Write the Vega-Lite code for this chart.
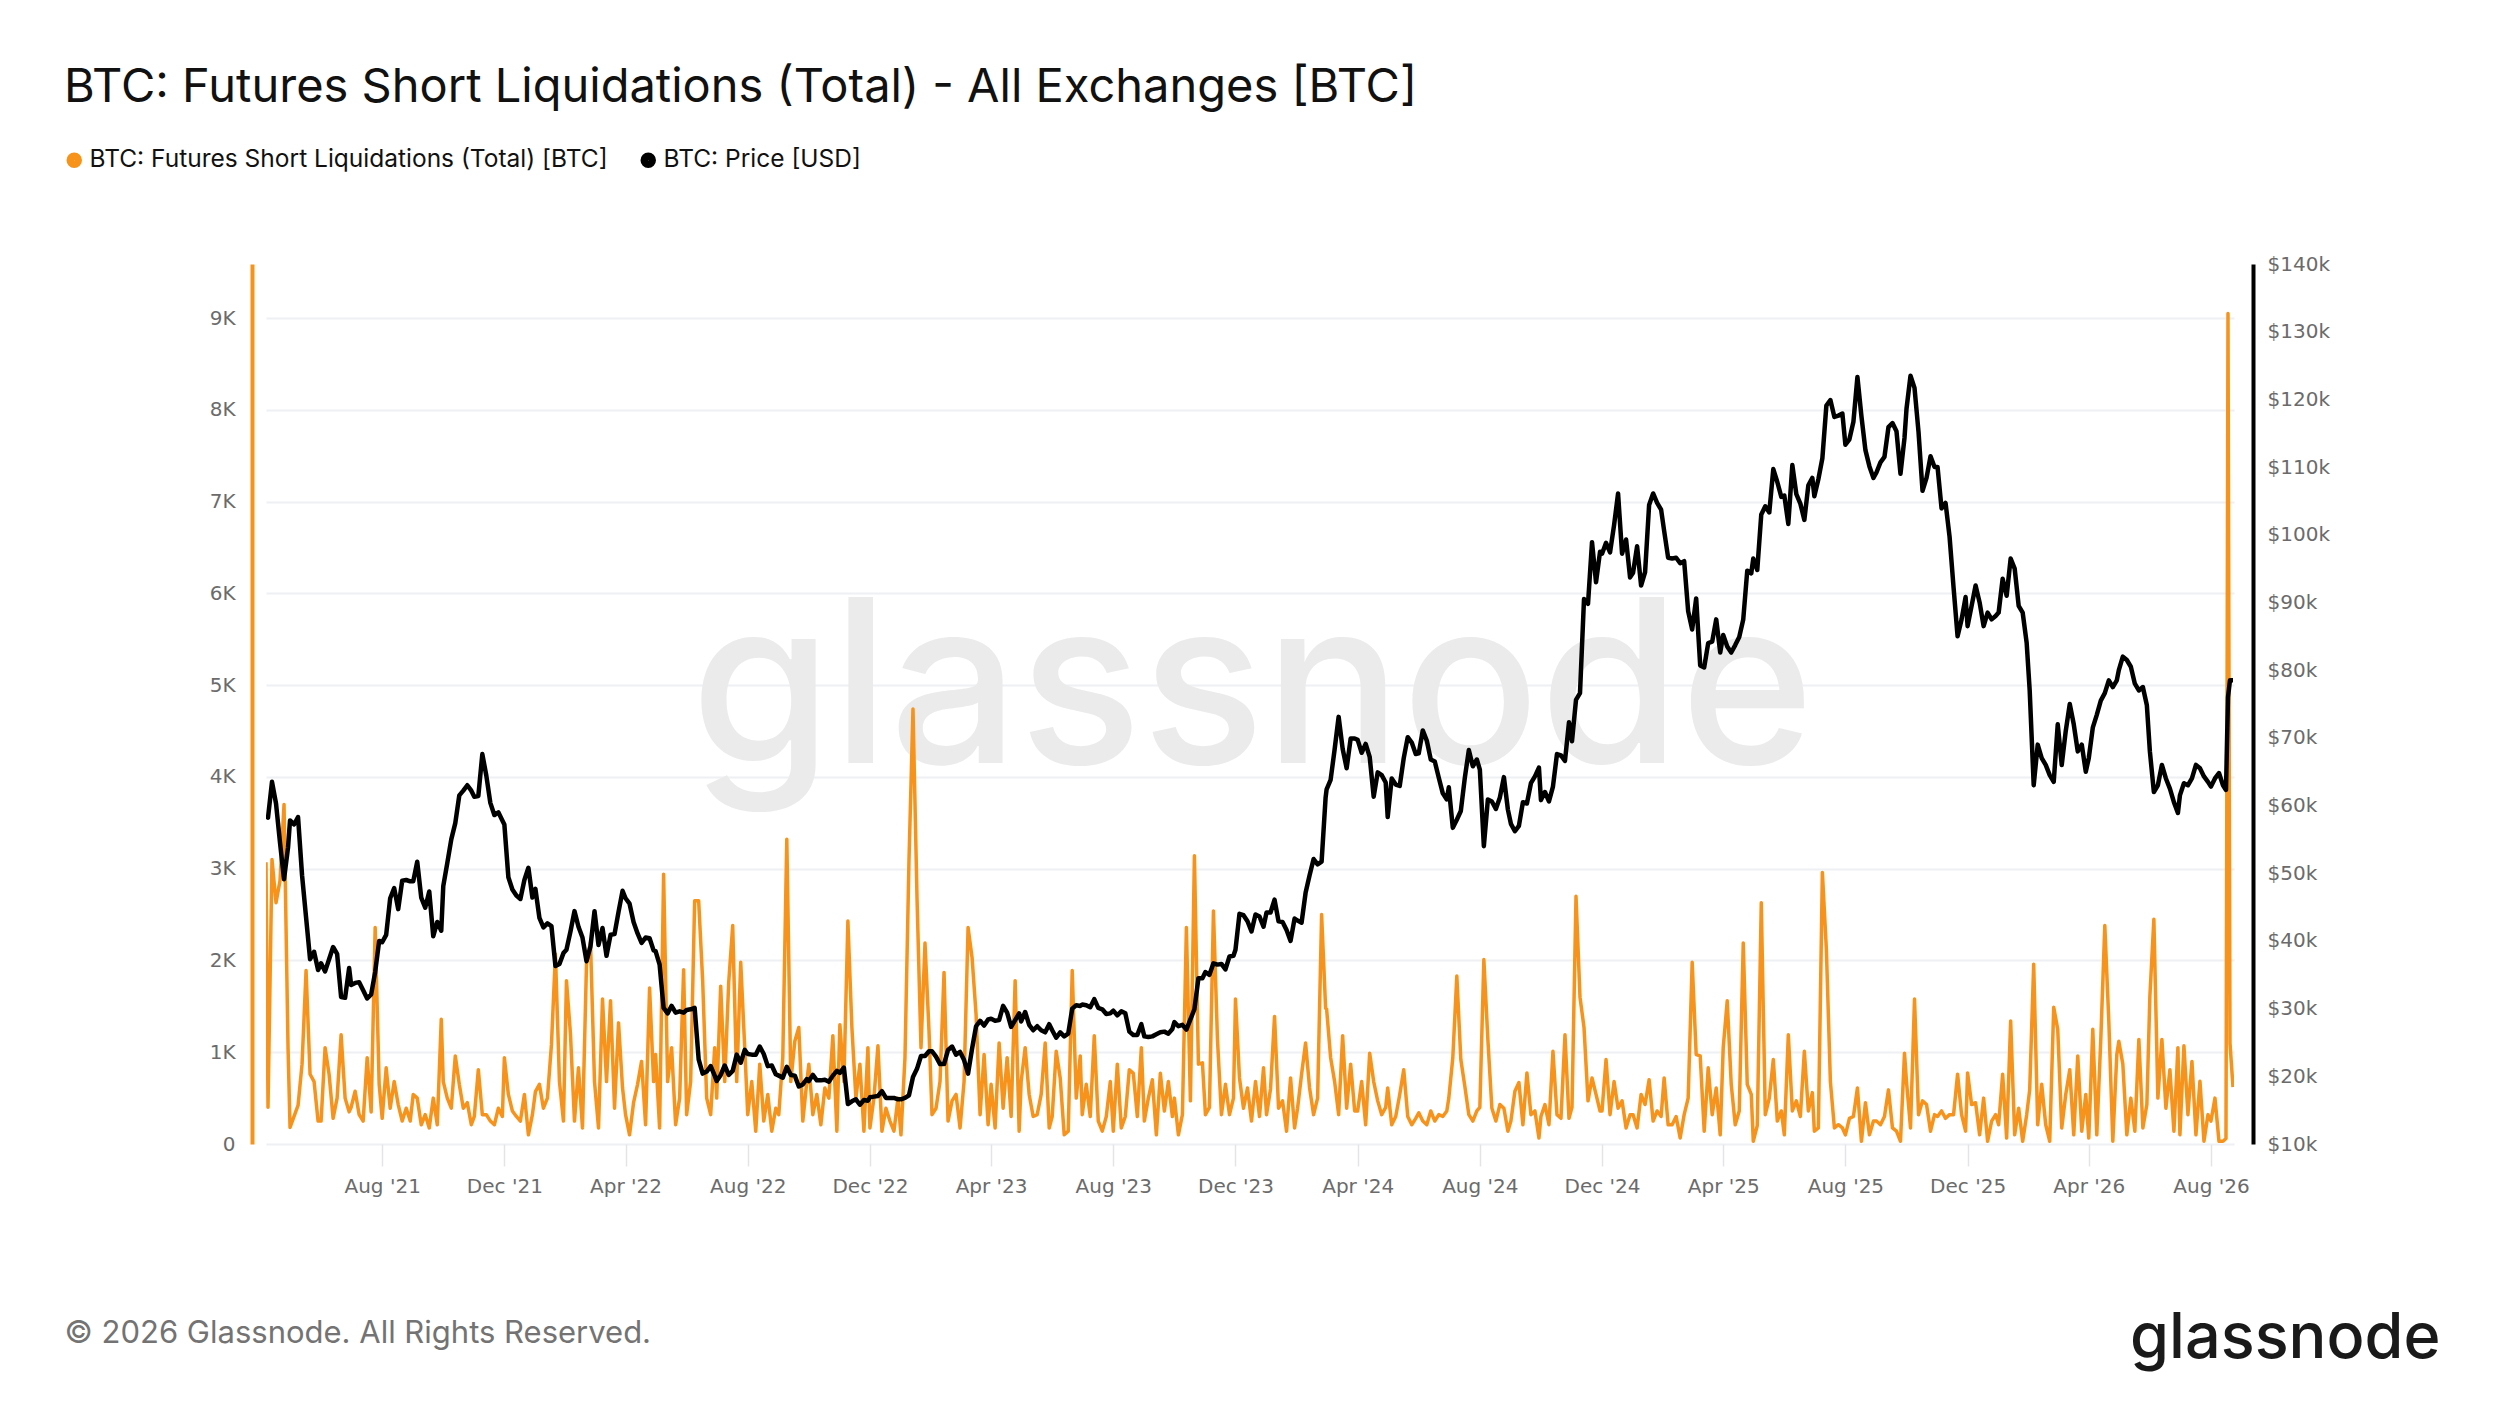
{
  "$schema": "https://vega.github.io/schema/vega-lite/v6.json",
  "width": 1968,
  "height": 880,
  "autosize": {"type": "none"},
  "padding": {"left": 266, "top": 264, "right": 266, "bottom": 262},
  "background": "white",
  "config": {"view": {"stroke": null}},
  "title": {
    "text": "BTC: Futures Short Liquidations (Total) - All Exchanges [BTC]",
    "anchor": "start",
    "frame": "group",
    "font": "Inter",
    "fontSize": 47,
    "fontWeight": 400,
    "color": "#111111",
    "baseline": "alphabetic",
    "dx": -202,
    "offset": -1
  },
  "data": {
    "values": [
      {"date":"2021-04-07","liq":3070,"price":58500},{"date":"2021-04-09","liq":400,"price":58200},{"date":"2021-04-13","liq":3100,"price":63500},{"date":"2021-04-17","liq":2630,"price":60300},{"date":"2021-04-21","liq":2870,"price":54500},{"date":"2021-04-25","liq":3700,"price":49100},{"date":"2021-04-29","liq":1050,"price":53800},
      {"date":"2021-05-01","liq":180,"price":57800},{"date":"2021-05-05","liq":300,"price":57200},{"date":"2021-05-09","liq":420,"price":58300},{"date":"2021-05-13","liq":870,"price":49700},{"date":"2021-05-17","liq":1890,"price":43500},{"date":"2021-05-21","liq":760,"price":37300},{"date":"2021-05-25","liq":680,"price":38400},{"date":"2021-05-29","liq":250,"price":35700},
      {"date":"2021-06-01","liq":250,"price":36700},{"date":"2021-06-05","liq":1050,"price":35500},{"date":"2021-06-09","liq":760,"price":37300},{"date":"2021-06-13","liq":280,"price":39100},{"date":"2021-06-17","liq":500,"price":38100},{"date":"2021-06-21","liq":1190,"price":31700},{"date":"2021-06-25","liq":500,"price":31600},{"date":"2021-06-29","liq":350,"price":36000},
      {"date":"2021-07-01","liq":400,"price":33500},{"date":"2021-07-05","liq":575,"price":33800},{"date":"2021-07-09","liq":320,"price":33900},{"date":"2021-07-13","liq":250,"price":32700},{"date":"2021-07-17","liq":940,"price":31500},{"date":"2021-07-21","liq":350,"price":32100},{"date":"2021-07-25","liq":2360,"price":35400},{"date":"2021-07-29","liq":650,"price":40000},
      {"date":"2021-08-01","liq":280,"price":39800},{"date":"2021-08-05","liq":830,"price":40900},{"date":"2021-08-09","liq":390,"price":46300},{"date":"2021-08-13","liq":680,"price":47800},{"date":"2021-08-17","liq":430,"price":44700},{"date":"2021-08-21","liq":250,"price":48900},{"date":"2021-08-25","liq":390,"price":49000},{"date":"2021-08-29","liq":250,"price":48800},
      {"date":"2021-09-01","liq":540,"price":48800},{"date":"2021-09-05","liq":500,"price":51700},{"date":"2021-09-09","liq":210,"price":46400},{"date":"2021-09-13","liq":320,"price":44900},{"date":"2021-09-17","liq":175,"price":47300},{"date":"2021-09-21","liq":500,"price":40700},{"date":"2021-09-25","liq":210,"price":42800},{"date":"2021-09-29","liq":1360,"price":41500},
      {"date":"2021-10-01","liq":680,"price":48100},{"date":"2021-10-05","liq":500,"price":51500},{"date":"2021-10-09","liq":390,"price":55000},{"date":"2021-10-13","liq":960,"price":57400},{"date":"2021-10-17","liq":650,"price":61500},{"date":"2021-10-21","liq":390,"price":62200},{"date":"2021-10-25","liq":450,"price":63000},{"date":"2021-10-29","liq":210,"price":62200},
      {"date":"2021-11-01","liq":300,"price":61300},{"date":"2021-11-05","liq":810,"price":61400},{"date":"2021-11-09","liq":320,"price":67600},{"date":"2021-11-13","liq":320,"price":64400},{"date":"2021-11-17","liq":250,"price":60400},{"date":"2021-11-21","liq":210,"price":58600},{"date":"2021-11-25","liq":390,"price":59000},{"date":"2021-11-29","liq":300,"price":57800},
      {"date":"2021-12-01","liq":940,"price":57200},{"date":"2021-12-05","liq":540,"price":49400},{"date":"2021-12-09","liq":360,"price":47600},{"date":"2021-12-13","liq":300,"price":46700},{"date":"2021-12-17","liq":250,"price":46200},{"date":"2021-12-21","liq":540,"price":49000},{"date":"2021-12-25","liq":100,"price":50800},{"date":"2021-12-29","liq":320,"price":46400},
      {"date":"2022-01-01","liq":570,"price":47700},{"date":"2022-01-05","liq":650,"price":43400},{"date":"2022-01-09","liq":390,"price":42000},{"date":"2022-01-13","liq":500,"price":42600},{"date":"2022-01-17","liq":1080,"price":42200},{"date":"2022-01-21","liq":2070,"price":36300},{"date":"2022-01-25","liq":680,"price":36600},{"date":"2022-01-29","liq":250,"price":38200},
      {"date":"2022-02-01","liq":1780,"price":38700},{"date":"2022-02-05","liq":1200,"price":41400},{"date":"2022-02-09","liq":250,"price":44400},{"date":"2022-02-13","liq":830,"price":42100},{"date":"2022-02-17","liq":175,"price":40500},{"date":"2022-02-21","liq":1960,"price":37000},{"date":"2022-02-25","liq":2200,"price":39200},
      {"date":"2022-03-01","liq":680,"price":44400},{"date":"2022-03-05","liq":175,"price":39400},{"date":"2022-03-09","liq":1580,"price":41900},{"date":"2022-03-13","liq":680,"price":37800},{"date":"2022-03-17","liq":1560,"price":40900},{"date":"2022-03-21","liq":390,"price":41000},{"date":"2022-03-25","liq":1320,"price":44300},{"date":"2022-03-29","liq":610,"price":47400},
      {"date":"2022-04-01","liq":320,"price":46300},{"date":"2022-04-05","liq":100,"price":45500},{"date":"2022-04-09","liq":450,"price":42800},{"date":"2022-04-13","liq":650,"price":41100},{"date":"2022-04-17","liq":900,"price":39700},{"date":"2022-04-21","liq":210,"price":40500},{"date":"2022-04-25","liq":1700,"price":40400},{"date":"2022-04-29","liq":680,"price":38600},
      {"date":"2022-05-01","liq":975,"price":38500},{"date":"2022-05-05","liq":175,"price":36500},{"date":"2022-05-09","liq":2940,"price":30100},{"date":"2022-05-13","liq":680,"price":29300},{"date":"2022-05-17","liq":1050,"price":30400},{"date":"2022-05-21","liq":210,"price":29400},{"date":"2022-05-25","liq":500,"price":29600},{"date":"2022-05-29","liq":1900,"price":29400},
      {"date":"2022-06-01","liq":320,"price":29800},{"date":"2022-06-05","liq":680,"price":29900},{"date":"2022-06-09","liq":2650,"price":30100},{"date":"2022-06-13","liq":2650,"price":22500},{"date":"2022-06-17","liq":1780,"price":20400},{"date":"2022-06-21","liq":500,"price":20700},{"date":"2022-06-25","liq":320,"price":21500},{"date":"2022-06-29","liq":1050,"price":20100},
      {"date":"2022-07-01","liq":500,"price":19300},{"date":"2022-07-05","liq":1720,"price":20200},{"date":"2022-07-09","liq":680,"price":21600},{"date":"2022-07-13","liq":1760,"price":20200},{"date":"2022-07-17","liq":2380,"price":20800},{"date":"2022-07-21","liq":680,"price":23200},{"date":"2022-07-25","liq":1980,"price":22000},{"date":"2022-07-29","liq":1050,"price":23900},
      {"date":"2022-08-01","liq":320,"price":23300},{"date":"2022-08-05","liq":680,"price":23200},{"date":"2022-08-09","liq":140,"price":23200},{"date":"2022-08-13","liq":870,"price":24400},{"date":"2022-08-17","liq":250,"price":23300},{"date":"2022-08-21","liq":540,"price":21500},{"date":"2022-08-25","liq":140,"price":21600},{"date":"2022-08-29","liq":390,"price":20300},
      {"date":"2022-09-01","liq":320,"price":20100},{"date":"2022-09-05","liq":940,"price":19800},{"date":"2022-09-09","liq":3320,"price":21400},{"date":"2022-09-13","liq":680,"price":20200},{"date":"2022-09-17","liq":1120,"price":20100},{"date":"2022-09-21","liq":1270,"price":18500},{"date":"2022-09-25","liq":250,"price":18800},{"date":"2022-09-29","liq":680,"price":19600},
      {"date":"2022-10-01","liq":870,"price":19300},{"date":"2022-10-05","liq":320,"price":20200},{"date":"2022-10-09","liq":540,"price":19400},{"date":"2022-10-13","liq":210,"price":19400},{"date":"2022-10-17","liq":610,"price":19500},{"date":"2022-10-21","liq":500,"price":19200},{"date":"2022-10-25","liq":1180,"price":20100},{"date":"2022-10-29","liq":140,"price":20800},
      {"date":"2022-11-01","liq":1300,"price":20500},{"date":"2022-11-05","liq":680,"price":21300},{"date":"2022-11-09","liq":2430,"price":15900},{"date":"2022-11-13","liq":1270,"price":16300},{"date":"2022-11-17","liq":500,"price":16600},{"date":"2022-11-21","liq":870,"price":15800},{"date":"2022-11-25","liq":140,"price":16500},{"date":"2022-11-29","liq":1050,"price":16400},
      {"date":"2022-12-01","liq":175,"price":16900},{"date":"2022-12-05","liq":500,"price":17000},{"date":"2022-12-09","liq":1070,"price":17100},{"date":"2022-12-13","liq":140,"price":17800},{"date":"2022-12-17","liq":390,"price":16800},{"date":"2022-12-21","liq":250,"price":16800},{"date":"2022-12-25","liq":140,"price":16800},{"date":"2022-12-29","liq":500,"price":16600},
      {"date":"2023-01-01","liq":100,"price":16600},{"date":"2023-01-05","liq":940,"price":16800},{"date":"2023-01-09","liq":3090,"price":17200},{"date":"2023-01-13","liq":4740,"price":19900},{"date":"2023-01-17","liq":2690,"price":21100},{"date":"2023-01-21","liq":1050,"price":23000},{"date":"2023-01-25","liq":2190,"price":23000},{"date":"2023-01-29","liq":1230,"price":23700},
      {"date":"2023-02-01","liq":320,"price":23700},{"date":"2023-02-05","liq":390,"price":22900},{"date":"2023-02-09","liq":680,"price":21800},{"date":"2023-02-13","liq":1870,"price":21800},{"date":"2023-02-17","liq":250,"price":23900},{"date":"2023-02-21","liq":470,"price":24400},{"date":"2023-02-25","liq":540,"price":23200},
      {"date":"2023-03-01","liq":175,"price":23600},{"date":"2023-03-05","liq":680,"price":22400},{"date":"2023-03-09","liq":2360,"price":20400},{"date":"2023-03-13","liq":2030,"price":24100},{"date":"2023-03-17","liq":1410,"price":27400},{"date":"2023-03-21","liq":320,"price":28200},{"date":"2023-03-25","liq":975,"price":27500},{"date":"2023-03-29","liq":210,"price":28400},
      {"date":"2023-04-01","liq":650,"price":28500},{"date":"2023-04-05","liq":175,"price":28200},{"date":"2023-04-09","liq":1100,"price":28300},{"date":"2023-04-13","liq":390,"price":30400},{"date":"2023-04-17","liq":940,"price":29400},{"date":"2023-04-21","liq":300,"price":27300},{"date":"2023-04-25","liq":1780,"price":28300},{"date":"2023-04-29","liq":140,"price":29300},
      {"date":"2023-05-01","liq":680,"price":28100},{"date":"2023-05-05","liq":1050,"price":29500},{"date":"2023-05-09","liq":540,"price":27600},{"date":"2023-05-13","liq":300,"price":26800},{"date":"2023-05-17","liq":320,"price":27400},{"date":"2023-05-21","liq":540,"price":26800},{"date":"2023-05-25","liq":1100,"price":26500},{"date":"2023-05-29","liq":175,"price":27700},
      {"date":"2023-06-01","liq":300,"price":26800},{"date":"2023-06-05","liq":1010,"price":25700},{"date":"2023-06-09","liq":720,"price":26500},{"date":"2023-06-13","liq":100,"price":25900},{"date":"2023-06-17","liq":140,"price":26300},{"date":"2023-06-21","liq":1890,"price":30000},{"date":"2023-06-25","liq":500,"price":30500},{"date":"2023-06-29","liq":960,"price":30400},
      {"date":"2023-07-01","liq":320,"price":30600},{"date":"2023-07-05","liq":650,"price":30500},{"date":"2023-07-09","liq":300,"price":30200},{"date":"2023-07-13","liq":1180,"price":31400},{"date":"2023-07-17","liq":250,"price":30100},{"date":"2023-07-21","liq":140,"price":29900},{"date":"2023-07-25","liq":300,"price":29200},{"date":"2023-07-29","liq":680,"price":29300},
      {"date":"2023-08-01","liq":140,"price":29700},{"date":"2023-08-05","liq":870,"price":29000},{"date":"2023-08-09","liq":175,"price":29600},{"date":"2023-08-13","liq":300,"price":29300},{"date":"2023-08-17","liq":810,"price":26600},{"date":"2023-08-21","liq":770,"price":26100},{"date":"2023-08-25","liq":300,"price":26100},{"date":"2023-08-29","liq":1050,"price":27700},
      {"date":"2023-09-01","liq":250,"price":25900},{"date":"2023-09-05","liq":500,"price":25800},{"date":"2023-09-09","liq":700,"price":25900},{"date":"2023-09-13","liq":100,"price":26200},{"date":"2023-09-17","liq":770,"price":26500},{"date":"2023-09-21","liq":360,"price":26600},{"date":"2023-09-25","liq":680,"price":26300},{"date":"2023-09-29","liq":300,"price":27000},
      {"date":"2023-10-01","liq":500,"price":28000},{"date":"2023-10-05","liq":100,"price":27400},{"date":"2023-10-09","liq":320,"price":27600},{"date":"2023-10-13","liq":2360,"price":26900},{"date":"2023-10-17","liq":470,"price":28400},{"date":"2023-10-21","liq":3140,"price":29900},{"date":"2023-10-25","liq":870,"price":34500},{"date":"2023-10-29","liq":885,"price":34500},
      {"date":"2023-11-01","liq":320,"price":35400},{"date":"2023-11-05","liq":400,"price":35000},{"date":"2023-11-09","liq":2540,"price":36700},{"date":"2023-11-13","liq":1140,"price":36500},{"date":"2023-11-17","liq":320,"price":36600},{"date":"2023-11-21","liq":650,"price":35800},{"date":"2023-11-25","liq":320,"price":37700},{"date":"2023-11-29","liq":500,"price":37800},
      {"date":"2023-12-01","liq":1580,"price":38700},{"date":"2023-12-05","liq":720,"price":44000},{"date":"2023-12-09","liq":390,"price":43800},{"date":"2023-12-13","liq":610,"price":42900},{"date":"2023-12-17","liq":250,"price":41400},{"date":"2023-12-21","liq":680,"price":43900},{"date":"2023-12-25","liq":300,"price":43600},{"date":"2023-12-29","liq":830,"price":42100},
      {"date":"2024-01-01","liq":320,"price":44200},{"date":"2024-01-05","liq":600,"price":44200},{"date":"2024-01-09","liq":1390,"price":46100},{"date":"2024-01-13","liq":390,"price":42900},{"date":"2024-01-17","liq":470,"price":42800},{"date":"2024-01-21","liq":140,"price":41600},{"date":"2024-01-25","liq":720,"price":40000},{"date":"2024-01-29","liq":175,"price":43300},
      {"date":"2024-02-01","liq":390,"price":43000},{"date":"2024-02-05","liq":760,"price":42700},{"date":"2024-02-09","liq":1100,"price":47100},{"date":"2024-02-13","liq":610,"price":49700},{"date":"2024-02-17","liq":320,"price":52100},{"date":"2024-02-21","liq":500,"price":51300},{"date":"2024-02-25","liq":2500,"price":51700},{"date":"2024-02-29","liq":1480,"price":61200},
      {"date":"2024-03-01","liq":1470,"price":62400},{"date":"2024-03-05","liq":940,"price":63800},{"date":"2024-03-09","liq":680,"price":68300},{"date":"2024-03-13","liq":320,"price":73100},{"date":"2024-03-17","liq":1180,"price":68400},{"date":"2024-03-21","liq":390,"price":65500},{"date":"2024-03-25","liq":870,"price":69900},{"date":"2024-03-29","liq":360,"price":69900},
      {"date":"2024-04-01","liq":360,"price":69700},{"date":"2024-04-05","liq":680,"price":67800},{"date":"2024-04-09","liq":210,"price":69100},{"date":"2024-04-13","liq":990,"price":67200},{"date":"2024-04-17","liq":680,"price":61300},{"date":"2024-04-21","liq":470,"price":64900},{"date":"2024-04-25","liq":320,"price":64500},{"date":"2024-04-29","liq":400,"price":63400},
      {"date":"2024-05-01","liq":610,"price":58300},{"date":"2024-05-05","liq":210,"price":64000},{"date":"2024-05-09","liq":300,"price":63100},{"date":"2024-05-13","liq":540,"price":62900},{"date":"2024-05-17","liq":810,"price":67000},{"date":"2024-05-21","liq":300,"price":70100},{"date":"2024-05-25","liq":210,"price":69300},{"date":"2024-05-29","liq":280,"price":67600},
      {"date":"2024-06-01","liq":340,"price":67700},{"date":"2024-06-05","liq":250,"price":71100},{"date":"2024-06-09","liq":210,"price":69600},{"date":"2024-06-13","liq":360,"price":66800},{"date":"2024-06-17","liq":250,"price":66500},{"date":"2024-06-21","liq":320,"price":64100},{"date":"2024-06-25","liq":300,"price":61800},{"date":"2024-06-29","liq":360,"price":60900},
      {"date":"2024-07-01","liq":500,"price":62700},{"date":"2024-07-05","liq":940,"price":56700},{"date":"2024-07-09","liq":1830,"price":57900},{"date":"2024-07-13","liq":920,"price":59200},{"date":"2024-07-17","liq":630,"price":64100},{"date":"2024-07-21","liq":320,"price":68200},{"date":"2024-07-25","liq":250,"price":65800},{"date":"2024-07-29","liq":360,"price":66800},
      {"date":"2024-08-01","liq":400,"price":65300},{"date":"2024-08-05","liq":2010,"price":54000},{"date":"2024-08-09","liq":1140,"price":60900},{"date":"2024-08-13","liq":390,"price":60600},{"date":"2024-08-17","liq":250,"price":59500},{"date":"2024-08-21","liq":430,"price":61200},{"date":"2024-08-25","liq":390,"price":64200},{"date":"2024-08-29","liq":140,"price":59400},
      {"date":"2024-09-01","liq":250,"price":57300},{"date":"2024-09-05","liq":575,"price":56200},{"date":"2024-09-09","liq":670,"price":57000},{"date":"2024-09-13","liq":210,"price":60500},{"date":"2024-09-17","liq":775,"price":60300},{"date":"2024-09-21","liq":320,"price":63300},{"date":"2024-09-25","liq":360,"price":64300},{"date":"2024-09-29","liq":65,"price":65600},
      {"date":"2024-10-01","liq":300,"price":60800},{"date":"2024-10-05","liq":430,"price":62000},{"date":"2024-10-09","liq":210,"price":60600},{"date":"2024-10-13","liq":1010,"price":62800},{"date":"2024-10-17","liq":320,"price":67600},{"date":"2024-10-21","liq":280,"price":67400},{"date":"2024-10-25","liq":1190,"price":66600},{"date":"2024-10-29","liq":280,"price":72300},
      {"date":"2024-11-01","liq":400,"price":69500},{"date":"2024-11-05","liq":2700,"price":75600},{"date":"2024-11-09","liq":1600,"price":76600},{"date":"2024-11-13","liq":1270,"price":90500},{"date":"2024-11-17","liq":470,"price":89800},{"date":"2024-11-21","liq":720,"price":98900},{"date":"2024-11-25","liq":540,"price":93000},{"date":"2024-11-29","liq":360,"price":97500},
      {"date":"2024-12-01","liq":360,"price":97200},{"date":"2024-12-05","liq":920,"price":98800},{"date":"2024-12-09","liq":320,"price":97400},{"date":"2024-12-13","liq":680,"price":101400},{"date":"2024-12-17","liq":390,"price":106100},{"date":"2024-12-21","liq":470,"price":97200},{"date":"2024-12-25","liq":175,"price":99300},{"date":"2024-12-29","liq":320,"price":93700},
      {"date":"2025-01-01","liq":320,"price":94400},{"date":"2025-01-05","liq":175,"price":98300},{"date":"2025-01-09","liq":540,"price":92500},{"date":"2025-01-13","liq":430,"price":94500},{"date":"2025-01-17","liq":700,"price":104400},{"date":"2025-01-21","liq":250,"price":106100},{"date":"2025-01-25","liq":360,"price":104700},{"date":"2025-01-29","liq":300,"price":103700},
      {"date":"2025-02-01","liq":720,"price":100600},{"date":"2025-02-05","liq":210,"price":96600},{"date":"2025-02-09","liq":210,"price":96500},{"date":"2025-02-13","liq":300,"price":96600},{"date":"2025-02-17","liq":65,"price":95800},{"date":"2025-02-21","liq":320,"price":96100},{"date":"2025-02-25","liq":500,"price":88700},
      {"date":"2025-03-01","liq":1980,"price":86000},{"date":"2025-03-05","liq":975,"price":90600},{"date":"2025-03-09","liq":960,"price":80700},{"date":"2025-03-13","liq":140,"price":80400},{"date":"2025-03-17","liq":830,"price":84000},{"date":"2025-03-21","liq":320,"price":84200},{"date":"2025-03-25","liq":610,"price":87500},{"date":"2025-03-29","liq":100,"price":82600},
      {"date":"2025-04-01","liq":1050,"price":85200},{"date":"2025-04-05","liq":1560,"price":83500},{"date":"2025-04-09","liq":650,"price":82600},{"date":"2025-04-13","liq":210,"price":83700},{"date":"2025-04-17","liq":360,"price":84900},{"date":"2025-04-21","liq":2190,"price":87500},{"date":"2025-04-25","liq":650,"price":94700},{"date":"2025-04-29","liq":540,"price":94300},
      {"date":"2025-05-01","liq":30,"price":96500},{"date":"2025-05-05","liq":200,"price":94800},{"date":"2025-05-09","liq":2630,"price":103000},{"date":"2025-05-13","liq":320,"price":104200},{"date":"2025-05-17","liq":500,"price":103300},{"date":"2025-05-21","liq":920,"price":109700},{"date":"2025-05-25","liq":250,"price":107800},{"date":"2025-05-29","liq":360,"price":105600},
      {"date":"2025-06-01","liq":100,"price":105800},{"date":"2025-06-05","liq":1190,"price":101600},{"date":"2025-06-09","liq":360,"price":110300},{"date":"2025-06-13","liq":470,"price":106000},{"date":"2025-06-17","liq":300,"price":104600},{"date":"2025-06-21","liq":1010,"price":102200},{"date":"2025-06-25","liq":360,"price":107300},{"date":"2025-06-29","liq":560,"price":108400},
      {"date":"2025-07-01","liq":140,"price":105700},{"date":"2025-07-05","liq":175,"price":108200},{"date":"2025-07-09","liq":2960,"price":111300},{"date":"2025-07-13","liq":2120,"price":119100},{"date":"2025-07-17","liq":680,"price":119900},{"date":"2025-07-21","liq":175,"price":117400},{"date":"2025-07-25","liq":210,"price":117600},{"date":"2025-07-29","liq":175,"price":117900},
      {"date":"2025-08-01","liq":100,"price":113300},{"date":"2025-08-05","liq":280,"price":114100},{"date":"2025-08-09","liq":300,"price":116700},{"date":"2025-08-13","liq":610,"price":123300},{"date":"2025-08-17","liq":30,"price":117500},{"date":"2025-08-21","liq":450,"price":112500},{"date":"2025-08-25","liq":100,"price":110100},{"date":"2025-08-29","liq":250,"price":108400},
      {"date":"2025-09-01","liq":250,"price":109200},{"date":"2025-09-05","liq":210,"price":110700},{"date":"2025-09-09","liq":300,"price":111500},{"date":"2025-09-13","liq":590,"price":115900},{"date":"2025-09-17","liq":175,"price":116500},{"date":"2025-09-21","liq":140,"price":115300},{"date":"2025-09-25","liq":30,"price":109000},{"date":"2025-09-29","liq":990,"price":114300},
      {"date":"2025-10-01","liq":680,"price":118600},{"date":"2025-10-05","liq":175,"price":123500},{"date":"2025-10-09","liq":1580,"price":121700},{"date":"2025-10-13","liq":320,"price":115200},{"date":"2025-10-17","liq":470,"price":106500},{"date":"2025-10-21","liq":430,"price":108400},{"date":"2025-10-25","liq":140,"price":111600},{"date":"2025-10-29","liq":320,"price":110000},
      {"date":"2025-11-01","liq":300,"price":110000},{"date":"2025-11-05","liq":360,"price":103900},{"date":"2025-11-09","liq":280,"price":104700},{"date":"2025-11-13","liq":320,"price":99700},{"date":"2025-11-17","liq":320,"price":92200},{"date":"2025-11-21","liq":760,"price":85000},{"date":"2025-11-25","liq":320,"price":87500},{"date":"2025-11-29","liq":140,"price":90800},
      {"date":"2025-12-01","liq":775,"price":86500},{"date":"2025-12-05","liq":430,"price":89500},{"date":"2025-12-09","liq":450,"price":92500},{"date":"2025-12-13","liq":100,"price":90000},{"date":"2025-12-17","liq":500,"price":86500},{"date":"2025-12-21","liq":30,"price":88500},{"date":"2025-12-25","liq":250,"price":87500},{"date":"2025-12-29","liq":320,"price":88000},
      {"date":"2026-01-01","liq":210,"price":88500},{"date":"2026-01-05","liq":760,"price":93500},{"date":"2026-01-09","liq":65,"price":91000},{"date":"2026-01-13","liq":1340,"price":96500},{"date":"2026-01-17","liq":100,"price":95000},{"date":"2026-01-21","liq":390,"price":89500},{"date":"2026-01-25","liq":30,"price":88500},{"date":"2026-01-29","liq":320,"price":84000},
      {"date":"2026-02-01","liq":590,"price":77000},{"date":"2026-02-05","liq":1960,"price":63000},{"date":"2026-02-09","liq":210,"price":69000},{"date":"2026-02-13","liq":650,"price":67000},{"date":"2026-02-17","liq":210,"price":66000},{"date":"2026-02-21","liq":30,"price":64500},{"date":"2026-02-25","liq":1490,"price":63500},
      {"date":"2026-03-01","liq":1250,"price":72000},{"date":"2026-03-05","liq":175,"price":66000},{"date":"2026-03-09","liq":540,"price":71000},{"date":"2026-03-13","liq":810,"price":75000},{"date":"2026-03-17","liq":100,"price":72000},{"date":"2026-03-21","liq":960,"price":68000},{"date":"2026-03-25","liq":140,"price":69000},{"date":"2026-03-29","liq":540,"price":65000},
      {"date":"2026-04-01","liq":65,"price":67000},{"date":"2026-04-05","liq":1250,"price":71500},{"date":"2026-04-09","liq":100,"price":73400},{"date":"2026-04-13","liq":1140,"price":75500},{"date":"2026-04-17","liq":2380,"price":76600},{"date":"2026-04-21","liq":1340,"price":78500},{"date":"2026-04-25","liq":30,"price":77500},{"date":"2026-04-29","liq":975,"price":78500},
      {"date":"2026-05-01","liq":1120,"price":80000},{"date":"2026-05-05","liq":870,"price":82000},{"date":"2026-05-09","liq":100,"price":81500},{"date":"2026-05-13","liq":500,"price":80500},{"date":"2026-05-17","liq":140,"price":78000},{"date":"2026-05-21","liq":1140,"price":77000},{"date":"2026-05-25","liq":175,"price":77500},{"date":"2026-05-29","liq":430,"price":74800},
      {"date":"2026-06-01","liq":1610,"price":68000},{"date":"2026-06-05","liq":2450,"price":62000},{"date":"2026-06-09","liq":500,"price":63000},{"date":"2026-06-13","liq":1140,"price":66000},{"date":"2026-06-17","liq":390,"price":64000},{"date":"2026-06-21","liq":810,"price":62500},{"date":"2026-06-25","liq":140,"price":60500},{"date":"2026-06-29","liq":1050,"price":58900},
      {"date":"2026-07-01","liq":100,"price":61500},{"date":"2026-07-05","liq":1070,"price":63300},{"date":"2026-07-09","liq":320,"price":63000},{"date":"2026-07-13","liq":900,"price":64000},{"date":"2026-07-17","liq":100,"price":66000},{"date":"2026-07-21","liq":685,"price":65500},{"date":"2026-07-25","liq":30,"price":64300},{"date":"2026-07-29","liq":320,"price":63500},
      {"date":"2026-08-01","liq":250,"price":62800},{"date":"2026-08-05","liq":500,"price":64000},{"date":"2026-08-09","liq":30,"price":64800},{"date":"2026-08-13","liq":30,"price":63000},{"date":"2026-08-16","liq":60,"price":62300},{"date":"2026-08-18","liq":9050,"price":76000},{"date":"2026-08-20","liq":1100,"price":78500},{"date":"2026-08-23","liq":620,"price":78500}
    ]
  },
  "encoding": {
    "x": {
      "field": "date",
      "type": "temporal",
      "scale": {
        "type": "utc",
        "domain": [
          {"year": 2021, "month": 4, "date": 7, "utc": true},
          {"year": 2026, "month": 8, "date": 24, "utc": true}
        ]
      },
      "axis": {
        "values": [
          {"year": 2021, "month": 8, "date": 1, "utc": true},
          {"year": 2021, "month": 12, "date": 1, "utc": true},
          {"year": 2022, "month": 4, "date": 1, "utc": true},
          {"year": 2022, "month": 8, "date": 1, "utc": true},
          {"year": 2022, "month": 12, "date": 1, "utc": true},
          {"year": 2023, "month": 4, "date": 1, "utc": true},
          {"year": 2023, "month": 8, "date": 1, "utc": true},
          {"year": 2023, "month": 12, "date": 1, "utc": true},
          {"year": 2024, "month": 4, "date": 1, "utc": true},
          {"year": 2024, "month": 8, "date": 1, "utc": true},
          {"year": 2024, "month": 12, "date": 1, "utc": true},
          {"year": 2025, "month": 4, "date": 1, "utc": true},
          {"year": 2025, "month": 8, "date": 1, "utc": true},
          {"year": 2025, "month": 12, "date": 1, "utc": true},
          {"year": 2026, "month": 4, "date": 1, "utc": true},
          {"year": 2026, "month": 8, "date": 1, "utc": true}
        ],
        "labelExpr": "utcFormat(datum.value, \"%b '%y\")",
        "grid": false,
        "domain": false,
        "ticks": true,
        "tickColor": "#e4e4e8",
        "tickWidth": 1.5,
        "tickSize": 22,
        "labelPadding": 10,
        "labelFont": "DejaVu Sans",
        "labelFontSize": 20,
        "labelColor": "#6b6b6b",
        "labelFlush": false,
        "labelOverlap": false,
        "title": "© 2026 Glassnode. All Rights Reserved.",
        "titleX": -202,
        "titleY": 198,
        "titleAlign": "left",
        "titleAnchor": "start",
        "titleBaseline": "alphabetic",
        "titleFont": "Inter",
        "titleFontSize": 31,
        "titleFontWeight": 400,
        "titleColor": "#737373"
      }
    }
  },
  "layer": [
    {
      "mark": {"type": "line", "strokeWidth": 3.5, "strokeJoin": "round", "clip": true},
      "encoding": {
        "y": {
          "field": "liq",
          "type": "quantitative",
          "scale": {"domain": [0, 9590], "nice": false, "zero": true},
          "axis": {
            "orient": "left",
            "offset": 14,
            "values": [0, 1000, 2000, 3000, 4000, 5000, 6000, 7000, 8000, 9000],
            "labelExpr": "datum.value == 0 ? '0' : (datum.value / 1000) + 'K'",
            "domain": true,
            "domainColor": "#f7931a",
            "domainWidth": 4,
            "ticks": false,
            "labelPadding": 17,
            "labelFont": "DejaVu Sans",
            "labelFontSize": 20,
            "labelColor": "#6b6b6b",
            "grid": true,
            "gridColor": "#eef0f4",
            "gridWidth": 2,
            "title": "glassnode",
            "titleX": 1000,
            "titleY": 498,
            "titleAngle": 0,
            "titleAlign": "center",
            "titleBaseline": "alphabetic",
            "titleFont": "Inter",
            "titleFontSize": 228,
            "titleFontWeight": 500,
            "titleColor": "#ebebeb"
          }
        },
        "color": {
          "datum": "BTC: Futures Short Liquidations (Total) [BTC]",
          "type": "nominal",
          "scale": {
            "domain": ["BTC: Futures Short Liquidations (Total) [BTC]", "BTC: Price [USD]"],
            "range": ["#f7931a", "#000000"]
          },
          "legend": {
            "orient": "none",
            "legendX": -204,
            "legendY": -116,
            "direction": "horizontal",
            "title": null,
            "padding": 0,
            "symbolType": "circle",
            "symbolSize": 56,
            "symbolStrokeWidth": 8,
            "labelOffset": 3,
            "columnPadding": 20,
            "labelFont": "Inter",
            "labelFontSize": 24.5,
            "labelColor": "#111111",
            "labelLimit": 0
          }
        }
      }
    },
    {
      "mark": {"type": "line", "strokeWidth": 4.5, "strokeJoin": "round", "clip": true},
      "encoding": {
        "y": {
          "field": "price",
          "type": "quantitative",
          "scale": {"domain": [10000, 140000], "nice": false, "zero": false},
          "axis": {
            "orient": "right",
            "offset": 19,
            "values": [10000, 20000, 30000, 40000, 50000, 60000, 70000, 80000, 90000, 100000, 110000, 120000, 130000, 140000],
            "labelExpr": "'$' + (datum.value / 1000) + 'k'",
            "domain": true,
            "domainColor": "#000000",
            "domainWidth": 4,
            "ticks": false,
            "grid": false,
            "labelPadding": 14,
            "labelFont": "DejaVu Sans",
            "labelFontSize": 20,
            "labelColor": "#6b6b6b",
            "title": "glassnode",
            "titleX": 187,
            "titleY": 1093,
            "titleAngle": 0,
            "titleAlign": "right",
            "titleBaseline": "alphabetic",
            "titleFont": "Inter",
            "titleFontSize": 63,
            "titleFontWeight": 500,
            "titleColor": "#1a1a1a"
          }
        },
        "color": {"datum": "BTC: Price [USD]", "type": "nominal"}
      }
    }
  ],
  "resolve": {"scale": {"y": "independent"}}
}
